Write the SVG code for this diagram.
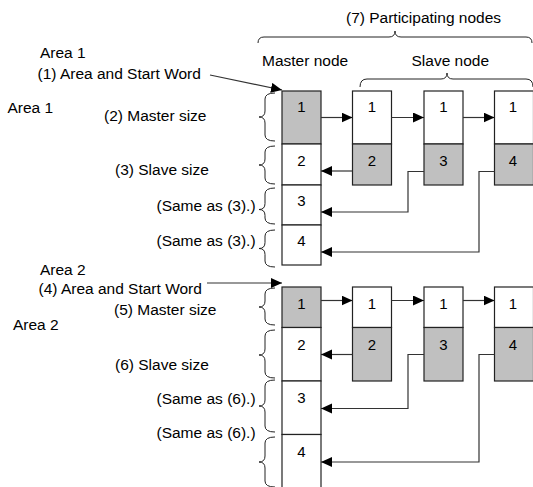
<svg xmlns="http://www.w3.org/2000/svg" width="533" height="487" viewBox="0 0 533 487">
<defs>
<style>
text{font-family:"Liberation Sans",Arial,Helvetica,sans-serif;font-size:15.5px;fill:#000}
.num{font-size:15px;text-anchor:middle}
.box{stroke:#222;stroke-width:1.2;fill:#fff}
.g{fill:#c0c0c0}
.con{fill:none;stroke:#333;stroke-width:1.2}
.br{fill:none;stroke:#222;stroke-width:1}
</style>
<marker id="ah" markerUnits="userSpaceOnUse" markerWidth="12" markerHeight="11" refX="11" refY="5" orient="auto">
<path d="M0,0 L11,5 L0,10 z" fill="#000"/>
</marker>
</defs>
<rect width="533" height="487" fill="#fff"/>

<g id="labels">
<text x="346" y="23">(7) Participating nodes</text>
<text x="40" y="58">Area 1</text>
<text x="37.5" y="79">(1) Area and Start Word</text>
<text x="262" y="66">Master node</text>
<text x="411.5" y="66">Slave node</text>
<text x="7.5" y="113">Area 1</text>
<text x="104" y="121">(2) Master size</text>
<text x="115" y="174.5">(3) Slave size</text>
<text x="156.5" y="211">(Same as (3).)</text>
<text x="156.5" y="246">(Same as (3).)</text>
<text x="40" y="275">Area 2</text>
<text x="38.5" y="294">(4) Area and Start Word</text>
<text x="114" y="315">(5) Master size</text>
<text x="13" y="330">Area 2</text>
<text x="115" y="370">(6) Slave size</text>
<text x="156.5" y="404">(Same as (6).)</text>
<text x="156.5" y="438">(Same as (6).)</text>
</g>

<g id="braces" class="br">
<path class="br" d="M258,43 Q258,37 264,37 L389,37 Q395,37 395,31 Q395,37 401,37 L526,37 Q532,37 532,43"/>
<path class="br" d="M360,87 Q360,79 367,79 L441,79 Q447,79 447,73 Q447,79 453,79 L526,79 Q533,79 533,87"/>
<path class="br" d="M275,93 Q265,93 265,99 L265,111 Q265,117 259,117 Q265,117 265,123 L265,135 Q265,141 275,141"/>
<path class="br" d="M275,146 Q265,146 265,152 L265,159 Q265,165 259,165 Q265,165 265,171 L265,178 Q265,184 275,184"/>
<path class="br" d="M275,188 Q265,188 265,194 L265,203.5 Q265,209.5 259,209.5 Q265,209.5 265,215.5 L265,218 Q265,224 275,224"/>
<path class="br" d="M275,230 Q265,230 265,236 L265,242.5 Q265,248.5 259,248.5 Q265,248.5 265,254.5 L265,261 Q265,267 275,267"/>
<path class="br" d="M275,288 Q265,288 265,294 L265,301 Q265,307 259,307 Q265,307 265,313 L265,319 Q265,325 275,325"/>
<path class="br" d="M275,330 Q265,330 265,336 L265,349 Q265,355 259,355 Q265,355 265,361 L265,372 Q265,378 275,378"/>
<path class="br" d="M275,380 Q265,380 265,386 L265,400 Q265,406 259,406 Q265,406 265,412 L265,426 Q265,432 275,432"/>
<path class="br" d="M275,437 Q265,437 265,443 L265,456 Q265,462 259,462 Q265,462 265,468 L265,481 Q265,487 275,487"/>
</g>

<g id="area1-master">
<rect class="box g" x="282" y="91" width="39" height="53"/>
<rect class="box" x="282" y="144" width="39" height="41"/>
<rect class="box" x="282" y="185" width="39" height="40"/>
<rect class="box" x="282" y="225" width="39" height="40"/>
<text class="num" x="301.5" y="112">1</text>
<text class="num" x="301.5" y="166">2</text>
<text class="num" x="301.5" y="206">3</text>
<text class="num" x="301.5" y="246">4</text>
</g>
<g id="area1-slave1">
<rect class="box" x="352.5" y="91" width="39" height="53"/>
<rect class="box g" x="352.5" y="144" width="39" height="41"/>
<text class="num" x="372" y="112">1</text>
<text class="num" x="372" y="166">2</text>
</g>
<g id="area1-slave2">
<rect class="box" x="424" y="91" width="39" height="53"/>
<rect class="box g" x="424" y="144" width="39" height="41"/>
<text class="num" x="443.5" y="112">1</text>
<text class="num" x="443.5" y="166">3</text>
</g>
<g id="area1-slave3">
<rect class="box" x="494.5" y="91" width="39" height="53"/>
<rect class="box g" x="494.5" y="144" width="39" height="41"/>
<text class="num" x="513" y="112">1</text>
<text class="num" x="513" y="166">4</text>
</g>

<g id="area2-master">
<rect class="box g" x="282" y="287" width="39" height="40.5"/>
<rect class="box" x="282" y="327.5" width="39" height="53.5"/>
<rect class="box" x="282" y="381" width="39" height="53.5"/>
<rect class="box" x="282" y="434.5" width="39" height="60"/>
<text class="num" x="301.5" y="309">1</text>
<text class="num" x="301.5" y="350">2</text>
<text class="num" x="301.5" y="403">3</text>
<text class="num" x="301.5" y="457">4</text>
</g>
<g id="area2-slave1">
<rect class="box" x="352.5" y="287" width="39" height="40.5"/>
<rect class="box g" x="352.5" y="327.5" width="39" height="53.5"/>
<text class="num" x="372" y="309">1</text>
<text class="num" x="372" y="350">2</text>
</g>
<g id="area2-slave2">
<rect class="box" x="424" y="287" width="39" height="40.5"/>
<rect class="box g" x="424" y="327.5" width="39" height="53.5"/>
<text class="num" x="443.5" y="309">1</text>
<text class="num" x="443.5" y="350">3</text>
</g>
<g id="area2-slave3">
<rect class="box" x="494.5" y="287" width="39" height="40.5"/>
<rect class="box g" x="494.5" y="327.5" width="39" height="53.5"/>
<text class="num" x="513" y="309">1</text>
<text class="num" x="513" y="350">4</text>
</g>

<g id="connectors" class="con">
<path class="con" d="M210,75 L282,90" marker-end="url(#ah)"/>
<path class="con" d="M207,283 L282,283" marker-end="url(#ah)"/>
<path class="con" d="M321,117.5 L352.5,117.5" marker-end="url(#ah)"/>
<path class="con" d="M391.5,117.5 L424,117.5" marker-end="url(#ah)"/>
<path class="con" d="M463,117.5 L494.5,117.5" marker-end="url(#ah)"/>
<path class="con" d="M352.5,171 L321,171" marker-end="url(#ah)"/>
<path class="con" d="M424,171.5 L408,171.5 L408,212 L321,212" marker-end="url(#ah)"/>
<path class="con" d="M494.5,171.5 L479,171.5 L479,252 L321,252" marker-end="url(#ah)"/>
<path class="con" d="M321,300.5 L352.5,300.5" marker-end="url(#ah)"/>
<path class="con" d="M391.5,300.5 L424,300.5" marker-end="url(#ah)"/>
<path class="con" d="M463,300.5 L494.5,300.5" marker-end="url(#ah)"/>
<path class="con" d="M352.5,354.5 L321,354.5" marker-end="url(#ah)"/>
<path class="con" d="M424,354.5 L408,354.5 L408,408.5 L321,408.5" marker-end="url(#ah)"/>
<path class="con" d="M494.5,354.5 L479,354.5 L479,462 L321,462" marker-end="url(#ah)"/>
</g>
</svg>
